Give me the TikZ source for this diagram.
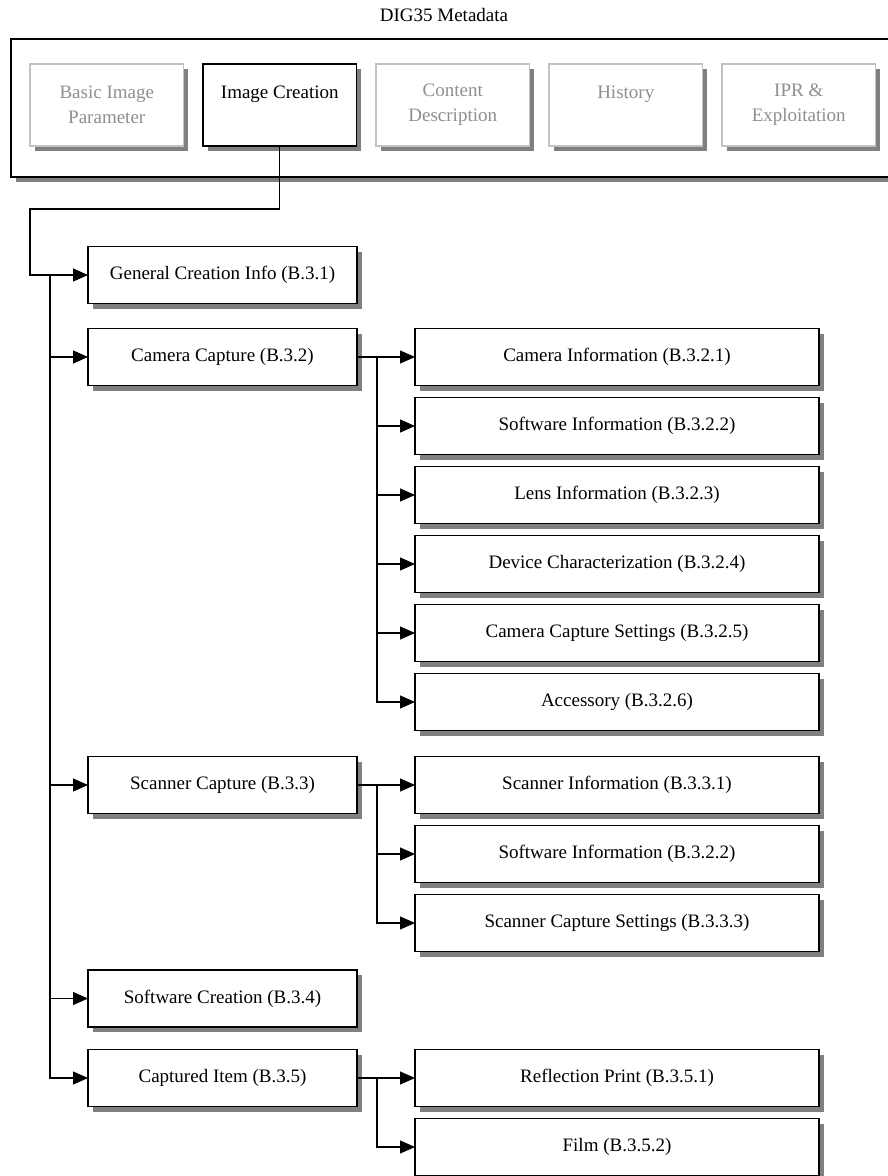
\documentclass[tikz,border=0pt]{standalone}
\usepackage{fontspec}
\setmainfont{Liberation Serif}
\usepackage{xcolor}
\definecolor{shadowgray}{rgb}{0.5,0.5,0.5}
\definecolor{dimbd}{rgb}{0.76,0.76,0.76}
\definecolor{dimtx}{rgb}{0.56,0.56,0.56}
\usepackage{tikz}
\usetikzlibrary{positioning, arrows.meta, shadows}

\begin{document}
\begin{tikzpicture}[
  x=1pt, y=-1pt,
  node distance=12pt and 19.5pt,
  every node/.style={font=\fontsize{19}{25}\selectfont},
  shade box/.style={drop shadow={shadow xshift=4.5pt, shadow yshift=-5pt,
              fill=shadowgray, opacity=1}},
  box/.style={draw, line width=1.1pt, fill=white, shade box, outer sep=0pt,
              minimum height=57pt, align=center},
  main/.style={box, minimum width=269pt},
  sub/.style={box, minimum width=404pt},
  part/.style={box, minimum width=153.5pt, minimum height=82pt},
  dim/.style={draw=dimbd, text=dimtx},
  link/.style={line width=1.1pt, -{Triangle[length=15pt, width=13pt]}},
]
\useasboundingbox (0,0) rectangle (888,1176);

% Title and outer frame
\node (title) at (444,15) {DIG35 Metadata};
\draw[line width=1.1pt, fill=white, shade box] (11,39) rectangle (900,177);

% Top level parts
\node[part, dim] (bip) at (106.75,105) {Basic Image\\Parameter};
\node[part, right=of bip] (ic) {Image Creation\\~};
\node[part, dim, right=of ic] (cd) {Content\\Description};
\node[part, dim, right=of cd] (hist) {History\\~};
\node[part, dim, right=of hist] (ipr) {IPR \&\\Exploitation};

% Image creation blocks
\node[main] (gen) at (222.5,275) {General Creation Info (B.3.1)};
\node[main] (cam) at (222.5,357) {Camera Capture (B.3.2)};
\node[main] (scan) at (222.5,785) {Scanner Capture (B.3.3)};
\node[main] (swc) at (222.5,998.5) {Software Creation (B.3.4)};
\node[main] (cap) at (222.5,1078) {Captured Item (B.3.5)};

% Camera capture column
\node[sub] (ci) at (617,357) {Camera Information (B.3.2.1)};
\node[sub, below=of ci] (si) {Software Information (B.3.2.2)};
\node[sub, below=of si] (li) {Lens Information (B.3.2.3)};
\node[sub, below=of li] (dc) {Device Characterization (B.3.2.4)};
\node[sub, below=of dc] (ccs) {Camera Capture Settings (B.3.2.5)};
\node[sub, below=of ccs] (acc) {Accessory (B.3.2.6)};

% Scanner capture column
\node[sub] (sci) at (617,785) {Scanner Information (B.3.3.1)};
\node[sub, below=of sci] (ssi) {Software Information (B.3.2.2)};
\node[sub, below=of ssi] (scs) {Scanner Capture Settings (B.3.3.3)};

% Captured item column
\node[sub] (rp) at (617,1078) {Reflection Print (B.3.5.1)};
\node[sub, below=of rp] (film) {Film (B.3.5.2)};

% Connectors
\coordinate (bend) at (30,209);
\coordinate (trunk) at (50,275);
\draw[link] (ic.south) |- (bend) |- (gen.west);
\foreach \n in {cam, scan, swc, cap}
  \draw[link] (trunk) |- (\n.west);

\coordinate (camfork) at ([xshift=20pt]cam.east);
\foreach \n in {ci, si, li, dc, ccs, acc}
  \draw[link] (cam.east) -- (camfork) |- (\n.west);

\coordinate (scanfork) at ([xshift=20pt]scan.east);
\foreach \n in {sci, ssi, scs}
  \draw[link] (scan.east) -- (scanfork) |- (\n.west);

\coordinate (capfork) at ([xshift=20pt]cap.east);
\foreach \n in {rp, film}
  \draw[link] (cap.east) -- (capfork) |- (\n.west);
\end{tikzpicture}
\end{document}
